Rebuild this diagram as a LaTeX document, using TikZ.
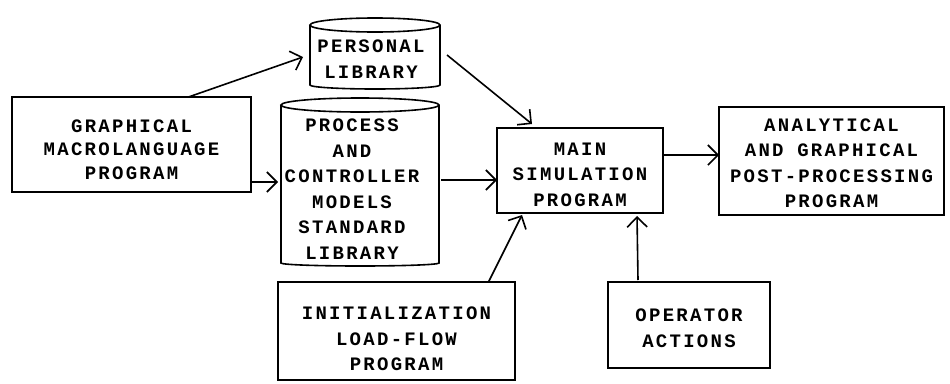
\documentclass[tikz,border=0pt]{standalone}
\usepackage{fontspec}
\setmainfont{Liberation Mono}[LetterSpace=12]
\usetikzlibrary{arrows.meta}
\begin{document}
\begin{tikzpicture}[x=1pt,y=-1pt,
  every node/.style={inner sep=0pt,outer sep=0pt},
  lbl/.style={align=center,font=\bfseries\fontsize{19}{25.5}\selectfont},
  blk/.style={draw,line width=1.6pt,rectangle},
  conn/.style={line width=1.6pt,-{Straight Barb[length=10pt,width=20pt,line width=1.6pt]}},
  outline/.style={line width=1.6pt}]
\useasboundingbox (0,0) rectangle (950,383);

% plain blocks, each with its lettering set a little below centre
\node[blk,minimum width=239pt,minimum height=95pt] (gm) at (131.5,144.5) {};
\node[lbl] (gmtext) at ([yshift=-5pt]gm.center)
  {GRAPHICAL\\[-2pt]MACROLANGUAGE\\[-2pt]PROGRAM};
\node[blk,minimum width=166pt,minimum height=85pt] (main) at (580,170.5) {};
\node[lbl] (maintext) at ([yshift=-4pt]main.center) {MAIN\\SIMULATION\\PROGRAM};
\node[blk,minimum width=225pt,minimum height=108pt] (ana) at (831.5,161) {};
\node[lbl] (anatext) at ([yshift=-2pt]ana.center)
  {ANALYTICAL\\AND GRAPHICAL\\POST-PROCESSING\\PROGRAM};
\node[blk,minimum width=237pt,minimum height=98pt] (init) at (396.5,331) {};
\node[lbl] (inittext) at ([yshift=-8pt]init.center) {INITIALIZATION\\LOAD-FLOW\\PROGRAM};
\node[blk,minimum width=162pt,minimum height=86pt] (op) at (689,325) {};
\node[lbl] (optext) at ([yshift=-3pt]op.center) {OPERATOR\\ACTIONS};

% library cylinders: an invisible frame node carries the name, the outline is drawn from its anchors
\node[minimum width=130pt,minimum height=70pt] (plib) at (375,53) {};
\draw[outline] ([yshift=-7pt]plib.north west) -- ([yshift=3pt]plib.south west)
  arc[start angle=180,end angle=360,x radius=65pt,y radius=4pt]
  -- ([yshift=-7pt]plib.north east)
  arc[start angle=0,end angle=360,x radius=65pt,y radius=7pt];
\node[lbl] (plibtext) at (371,59) {PERSONAL\\LIBRARY};

\node[minimum width=158pt,minimum height=168pt] (std) at (360,182) {};
\draw[outline] ([yshift=-7pt]std.north west) -- ([yshift=3pt]std.south west)
  arc[start angle=180,end angle=360,x radius=79pt,y radius=3pt]
  -- ([yshift=-7pt]std.north east)
  arc[start angle=0,end angle=360,x radius=79pt,y radius=7pt];
\node[lbl] (stdtext) at (352,189) {PROCESS\\AND\\CONTROLLER\\MODELS\\STANDARD\\LIBRARY};

% connectors
\draw[conn] ([xshift=57pt]gm.north) -- ([xshift=-7pt,yshift=-4pt]plib.west);
\draw[conn] ([yshift=-37.5pt]gm.east) -- ([xshift=-3pt]std.west);
\draw[conn] ([xshift=7pt,yshift=-2pt]plib.east) -- ([xshift=-48pt,yshift=4pt]main.north);
\draw[conn] ([xshift=2pt,yshift=2pt]std.east) -- (main.west |- 0,180);
\draw[conn] ([yshift=15.5pt]main.east) -- ([yshift=6pt]ana.west);
\draw[conn] ([xshift=92pt]init.north) -- ([xshift=-58pt,yshift=-2pt]main.south);
\draw[conn] ([xshift=-51pt,yshift=2pt]op.north) -- ([xshift=57pt,yshift=-3pt]main.south);
\end{tikzpicture}
\end{document}
